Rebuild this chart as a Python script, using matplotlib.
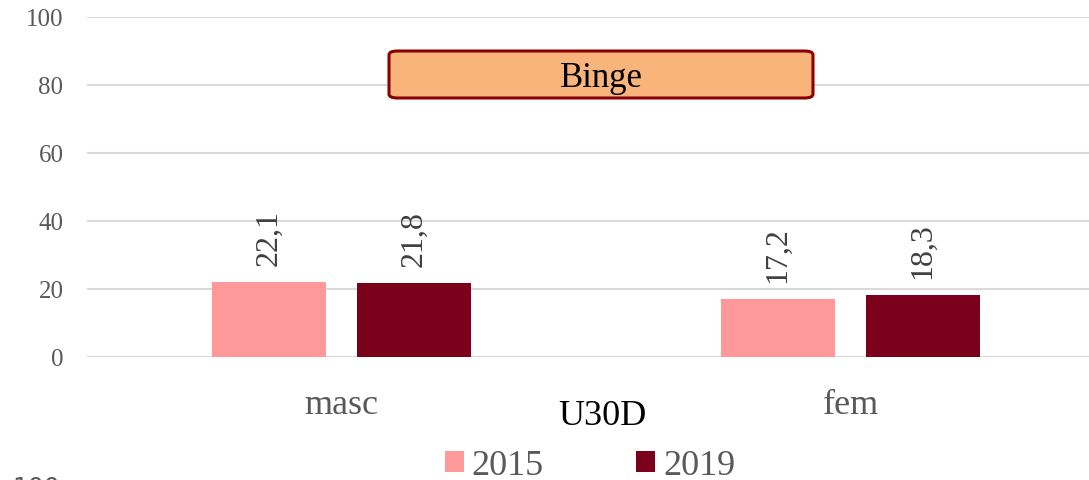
import matplotlib
matplotlib.use("Agg")
import matplotlib.pyplot as plt
import numpy as np
from matplotlib.patches import FancyBboxPatch, Patch

# -- Data ---------------------------------------------------------------------
categories = ["masc", "fem"]
years = ["2015", "2019"]
values_2015 = [22.1, 17.2]
values_2019 = [21.8, 18.3]
y_ticks = [0, 20, 40, 60, 80, 100]

COL_2015 = "#FF9999"
COL_2019 = "#7B001C"
GRID = "#D9D9D9"
TICK_TXT = "#595959"

plt.rcParams["font.family"] = ["Liberation Serif", "DejaVu Serif"]

W, H = 1089, 481
fig = plt.figure(figsize=(W / 100, H / 100), dpi=100, facecolor="white")
ax = fig.add_axes([87 / W, 123 / H, 1018 / W, 340 / H])

x = np.arange(len(categories))
bw = 0.224
off = 0.1425
b1 = ax.bar(x - off, values_2015, bw, color=COL_2015, zorder=3)
b2 = ax.bar(x + off, values_2019, bw, color=COL_2019, zorder=3)

for bars, vals in ((b1, values_2015), (b2, values_2019)):
    for rect, v in zip(bars, vals):
        ax.annotate(f"{v:.1f}".replace(".", ","),
                    (rect.get_x() + rect.get_width() / 2, rect.get_height()),
                    xytext=(0, 12), textcoords="offset points",
                    rotation=90, ha="center", va="bottom",
                    fontsize=23, color="#404040")

ax.set_xlim(-0.5, 1.5)
ax.set_ylim(0, 100)
ax.set_yticks(y_ticks)
ax.set_xticks(x)
ax.set_xticklabels(categories)
ax.tick_params(axis="y", length=0, pad=17, labelsize=18, labelcolor=TICK_TXT)
ax.tick_params(axis="x", length=0, pad=22, labelsize=26, labelcolor=TICK_TXT)
ax.yaxis.grid(True, color=GRID, linewidth=1.5, zorder=0)
ax.set_axisbelow(True)
for s in ax.spines.values():
    s.set_visible(False)

# -- "Binge" box --------------------------------------------------------------
box = FancyBboxPatch((389 / W, (481 - 99) / H), 424 / W, 47 / H,
                     boxstyle="round,pad=0,rounding_size=0.008",
                     transform=fig.transFigure, facecolor="#F8B47A",
                     edgecolor="#8B0000", linewidth=2.2, zorder=5)
fig.patches.append(box)
fig.text(601 / W, (481 - 79) / H, "Binge", ha="center", va="center",
         fontsize=25, color="black", zorder=6)

# -- axis title + legend --------------------------------------------------------
fig.text(602 / W, (481 - 417) / H, "U30D", ha="center", va="center",
         fontsize=26, color="black")

handles = [Patch(facecolor=COL_2015, label=years[0]),
           Patch(facecolor=COL_2019, label=years[1])]
leg = fig.legend(handles=handles, loc="center", bbox_to_anchor=(590 / W, (481 - 467) / H),
                 ncol=2, frameon=False, fontsize=26, handlelength=0.53, handleheight=0.53,
                 handletextpad=0.22, columnspacing=2.55, borderpad=0, borderaxespad=0)
for t in leg.get_texts():
    t.set_color(TICK_TXT)

# cut-off tick label of the chart below
fig.text(36 / W, (481 - 476) / H, "100", ha="center", va="top",
         fontsize=18, color=TICK_TXT, family="DejaVu Sans")

fig.savefig("out.png", dpi=100, facecolor="white")
